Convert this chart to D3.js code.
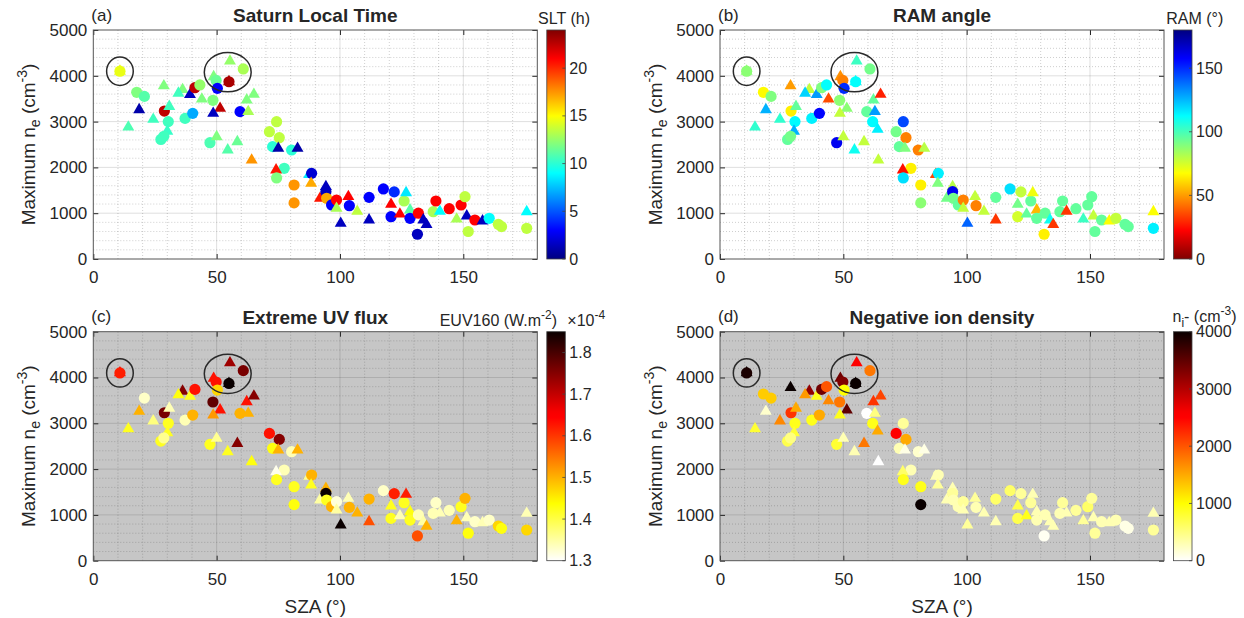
<!DOCTYPE html>
<html>
<head>
<meta charset="utf-8">
<script src="https://cdn.jsdelivr.net/npm/d3@7"></script>
<style>
  body { margin: 0; background: #fff; }
  text { font-family: "Liberation Sans", Arial, sans-serif; fill: #262626; }
</style>
</head>
<body>
<svg id="fig" width="1244" height="618"></svg>
<script>
// ---- data (same events in every panel, coloured by a different quantity)
const sza = [10.8, 10.8, 14.2, 17.6, 20.7, 18.6, 24.3, 28.6, 28.8, 30.8, 30.4, 30.0, 27.4, 28.6, 37.2, 36.2, 34.5, 39.2, 41.2, 43.2,
  40.3, 44.0, 48.5, 48.8, 49.8, 50.3, 55.0, 55.0, 55.4, 60.8, 51.4, 48.6, 59.5, 47.3, 50.0, 54.5, 58.4, 62.8, 62.2, 65.1,
  64.2, 61.9, 63.9, 71.4, 74.3, 75.4, 72.7, 75.0, 80.4, 82.8, 77.4, 74.1, 74.3, 81.4, 81.4, 87.5, 88.5, 88.3, 91.9, 94.3,
  94.3, 94.6, 96.6, 98.6, 98.6, 100.3, 103.4, 103.8, 107.0, 111.8, 111.8, 117.6, 122.0, 120.7, 120.7, 124.3, 126.0, 126.8, 128.4, 128.4,
  131.8, 131.4, 133.8, 135.1, 137.8, 138.9, 140.5, 144.3, 147.3, 149.1, 150.7, 152.0, 151.4, 154.7, 157.8, 160.5, 164.2, 165.5, 175.7, 175.7];
const neMax = [4100, 4100, 2880, 3640, 3550, 3260, 3050, 3780, 3230, 3330, 3000, 2790, 2610, 2680, 3070, 3700, 3620, 3590, 3740, 3800,
  3180, 3490, 3465, 3980, 3900, 3726, 3870, 3870, 4320, 4150, 3290, 3180, 3217, 2540, 2670, 2380, 2560, 3217, 3471, 3595,
  2160, 2998, 2831, 2780, 2998, 2649, 2453, 2416, 2380, 2416, 1980, 1943, 1770, 1616, 1225, 1845, 1870, 1652, 1325, 1580,
  1470, 1325, 1180, 1288, 1106, 779, 1361, 1164, 1040, 1346, 852, 1530, 1465, 1194, 924, 980, 1266, 1448, 1070, 888,
  1000, 540, 852, 750, 1033, 1266, 1040, 1099, 870, 1179, 1361, 600, 939, 852, 830, 888, 757, 706, 670, 1033];
const marker = ['^', 'o', '^', 'o', 'o', '^', '^', '^', 'o', '^', 'o', '^', 'o', 'o', 'o', '^', '^', '^', 'o', 'o',
  'o', '^', 'o', '^', 'o', 'o', '^', 'o', '^', 'o', '^', '^', 'o', 'o', '^', '^', '^', '^', '^', '^',
  '^', 'o', '^', 'o', 'o', 'o', 'o', '^', 'o', '^', 'o', '^', 'o', 'o', 'o', '^', 'o', '^', '^', '^',
  'o', 'o', 'o', 'o', '^', '^', '^', 'o', '^', 'o', '^', 'o', 'o', '^', 'o', '^', 'o', '^', '^', 'o',
  'o', 'o', '^', '^', 'o', 'o', '^', 'o', '^', 'o', 'o', 'o', '^', 'o', '^', 'o', 'o', 'o', 'o', '^'];
const slt = [14.5, 14.5, 10.8, 12, 11, 1, 10.5, 12, 22.5, 10.5, 10.5, 10.3, 10.5, 10.5, 10.5, 12, 10.5, 1.5, 22.5, 12.5,
  7, 12, 12, 12, 11.5, 3, 23, 23, 12.5, 13, 22.5, 1.5, 3, 10.8, 12, 11, 11.5, 13, 12, 12,
  17.5, null, null, 13.5, 13.5, 13.5, 10, 1, 10, 1, 10.5, 20.5, 12, 17.5, 17.5, 8.5, 2, 17, 20.5, 1.5,
  1.5, 17, 3, 21, 13, 1.5, 21, 3, 13.5, 3, 1.5, 3, 4, 21, 3, 21, 13, 8.5, 11, 3,
  21, 1.5, 1.5, 1.5, 13, 21, 9, 21, 13, 21, 13.5, 13.5, 1.5, 21, 1.5, 9, 13.5, 13.5, 13.5, 9];
const ram = [88, 88, 104, 67, 90, 126, 104, 50, 65, 95, 113, 126, 95, 92, 115, 78, 120, 130, 90, 112,
  157, 36, 88, 48, 45, 150, 112, 112, 102, 92, 88, 78, 95, 160, 78, 110, 78, 130, 95, 28,
  78, 113, 115, 92, 145, 45, 95, 90, 45, 80, 65, 25, 118, 65, 88, 35, 115, 90, 92, 80,
  160, 92, 95, 45, 78, 140, 78, 45, 78, 95, 32, 118, 78, 92, 75, 95, 95, 70, 55, 95,
  95, 65, 110, 32, 95, 95, 32, 95, 102, 95, 95, 95, 78, 95, 68, 78, 95, 95, 115, 68];
const euv = [1.66, 1.62, 1.42, null, 1.33, 1.5, 1.37, null, 1.76, 1.34, 1.42, 1.42, 1.42, 1.36, 1.34, 1.75, 1.43, 1.42, 1.63, null,
  1.5, null, 1.78, 1.63, 1.63, 1.47, 1.85, 1.85, 1.73, 1.76, 1.63, 1.52, 1.5, 1.42, 1.36, 1.42, 1.75, 1.5, 1.63, 1.75,
  1.43, null, null, 1.63, null, 1.75, 1.43, 1.5, 1.34, 1.5, 1.34, 1.31, 1.42, 1.42, 1.43, 1.36, 1.5, 1.42, 1.35, 1.5,
  1.85, 1.42, 1.5, 1.32, 1.35, 1.85, 1.34, 1.5, 1.5, 1.5, 1.58, 1.33, 1.62, 1.42, 1.42, 1.34, 1.42, 1.62, 1.43, 1.42,
  1.34, 1.58, 1.35, 1.5, 1.34, 1.33, 1.34, 1.34, 1.5, 1.42, 1.5, 1.43, 1.34, 1.33, 1.34, 1.33, 1.47, 1.43, 1.47, 1.34];
const nion = [4000, 3900, 800, 1300, 1300, 200, 1700, 4000, 2200, 1500, 900, 800, 700, 500, 900, 3200, 1600, 900, 3400, 2000,
  1500, 1700, 1800, 3400, 3300, 1000, 4000, 4000, 2500, 1800, 3500, 900, 0, 800, 300, 300, 1800, 500, 2200, 2100,
  0, 900, 1500, 2500, 400, 1500, 300, 100, 200, 100, 300, 600, 900, 900, 4000, 300, 300, 400, 300, 300,
  400, 300, 300, 400, 300, 400, 400, 300, 300, 600, 300, 600, 400, 700, 700, 900, 400, 300, 300, 300,
  300, 50, 300, 300, 300, 400, 300, 400, 400, 600, 400, 400, 300, 300, 300, 300, 100, 100, 400, 300];

// highlighted groups (black ellipses): centre SZA, centre ne, half-width (deg), half-height (cm-3)
const ellSza = [10.8, 54.5];
const ellNe = [4100, 4080];
const ellRx = [5.4, 9.5];
const ellRy = [310, 430];

const xTicks = [0, 50, 100, 150];
const yTicks = [0, 1000, 2000, 3000, 4000, 5000];
const sltTicks = [0, 5, 10, 15, 20];
const ramTicks = [0, 50, 100, 150];
const euvTicks = [1.3, 1.4, 1.5, 1.6, 1.7, 1.8];
const nionTicks = [0, 1000, 2000, 3000, 4000];

// ---- colormaps (MATLAB jet and flipped hot)
const clamp = v => Math.max(0, Math.min(1, v));
const jet = t => d3.rgb(255 * clamp(1.5 - Math.abs(4 * t - 3)), 255 * clamp(1.5 - Math.abs(4 * t - 2)),
  255 * clamp(1.5 - Math.abs(4 * t - 1))).toString();
const jetR = t => jet(1 - t);
const hotR = t => {
  const s = 1 - t;
  return d3.rgb(255 * clamp(0.04 + s / 0.375), 255 * clamp((s - 0.375) / 0.375), 255 * clamp((s - 0.75) / 0.25)).toString();
};

const W = 444, H = 229;
const panels = [
  { tag: '(a)', title: 'Saturn Local Time', left: 93.3, top: 30, values: slt, domain: [0, 24], cmap: jet,
    ticks: sltTicks, fmt: d3.format('d'), bg: '#ffffff', xlabel: false, cbt: 'slt' },
  { tag: '(b)', title: 'RAM angle', left: 720, top: 30, values: ram, domain: [0, 180], cmap: jetR,
    ticks: ramTicks, fmt: d3.format('d'), bg: '#ffffff', xlabel: false, cbt: 'ram' },
  { tag: '(c)', title: 'Extreme UV flux', left: 93.3, top: 331.7, values: euv, domain: [1.3, 1.85], cmap: hotR,
    ticks: euvTicks, fmt: d3.format('.1f'), bg: '#c6c6c6', xlabel: true, cbt: 'euv' },
  { tag: '(d)', title: 'Negative ion density', left: 720, top: 331.7, values: nion, domain: [0, 4000], cmap: hotR,
    ticks: nionTicks, fmt: d3.format('d'), bg: '#c6c6c6', xlabel: true, cbt: 'nion' }
];

const svg = d3.select('#fig');
const defs = svg.append('defs');
const x = d3.scaleLinear().domain([0, 180]).range([0, W]);
const y = d3.scaleLinear().domain([0, 5000]).range([H, 0]);
const circ = d3.symbol(d3.symbolCircle, Math.PI * 5.6 * 5.6)();
const tri = d3.symbol(d3.symbolTriangle, 62)();

panels.forEach((p, k) => {
  const g = svg.append('g').attr('transform', `translate(${p.left},${p.top})`);
  const color = d3.scaleSequential(p.cmap).domain(p.domain).clamp(true);

  g.append('rect').attr('width', W).attr('height', H).attr('fill', p.bg);

  // minor grid (dotted), then major grid
  const minX = d3.range(10, 180, 10).filter(v => v % 50 !== 0);
  const minY = d3.range(200, 5000, 200).filter(v => v % 1000 !== 0);
  g.append('g').selectAll('line').data(minX).join('line')
    .attr('x1', d => x(d)).attr('x2', d => x(d)).attr('y1', 0).attr('y2', H)
    .attr('stroke', '#262626').attr('stroke-opacity', 0.22).attr('stroke-dasharray', '1,2');
  g.append('g').selectAll('line').data(minY).join('line')
    .attr('x1', 0).attr('x2', W).attr('y1', d => y(d)).attr('y2', d => y(d))
    .attr('stroke', '#262626').attr('stroke-opacity', 0.22).attr('stroke-dasharray', '1,2');
  g.append('g').selectAll('line').data(xTicks.slice(1)).join('line')
    .attr('x1', d => x(d)).attr('x2', d => x(d)).attr('y1', 0).attr('y2', H)
    .attr('stroke', '#262626').attr('stroke-opacity', 0.15);
  g.append('g').selectAll('line').data(yTicks.slice(1, -1)).join('line')
    .attr('x1', 0).attr('x2', W).attr('y1', d => y(d)).attr('y2', d => y(d))
    .attr('stroke', '#262626').attr('stroke-opacity', 0.15);

  // markers
  const idx = d3.range(sza.length).filter(i => p.values[i] != null);
  g.append('g').selectAll('path').data(idx).join('path')
    .attr('transform', i => `translate(${x(sza[i])},${y(neMax[i])})`)
    .attr('d', i => marker[i] === 'o' ? circ : tri)
    .attr('fill', i => color(p.values[i]));

  // highlight ellipses
  g.append('g').selectAll('ellipse').data(ellSza).join('ellipse')
    .attr('cx', (d, i) => x(d)).attr('cy', (d, i) => y(ellNe[i]))
    .attr('rx', (d, i) => x(ellRx[i]) - x(0)).attr('ry', (d, i) => y(0) - y(ellRy[i]))
    .attr('fill', 'none').attr('stroke', '#2a2a2a').attr('stroke-width', 1.5);

  // axes (ticks pointing inwards, box on)
  const ax = (sel) => { sel.select('.domain').remove(); sel.selectAll('.tick line').attr('stroke', '#262626'); };
  g.append('g').attr('transform', `translate(0,${H})`)
    .call(d3.axisBottom(x).tickValues(xTicks).tickFormat(d3.format('d')).tickSizeInner(-5).tickSizeOuter(0).tickPadding(12))
    .call(ax).selectAll('text').attr('font-size', 17).attr('fill', '#262626');
  g.append('g')
    .call(d3.axisLeft(y).tickValues(yTicks).tickFormat(d3.format('d')).tickSizeInner(-5).tickSizeOuter(0).tickPadding(6))
    .call(ax).selectAll('text').attr('font-size', 17).attr('fill', '#262626');
  g.append('g').call(d3.axisTop(x).tickValues(xTicks).tickSizeInner(-5).tickSizeOuter(0).tickFormat(''))
    .call(ax);
  g.append('g').attr('transform', `translate(${W},0)`)
    .call(d3.axisRight(y).tickValues(yTicks).tickSizeInner(-5).tickSizeOuter(0).tickFormat(''))
    .call(ax);
  g.selectAll('.tick text').attr('font-family', '"Liberation Sans", Arial, sans-serif');
  g.append('rect').attr('width', W).attr('height', H).attr('fill', 'none')
    .attr('stroke', '#555').attr('stroke-width', 1);

  // titles and labels
  g.append('text').attr('x', -2).attr('y', -9.5).attr('font-size', 17).text(p.tag);
  g.append('text').attr('x', W / 2).attr('y', -8).attr('text-anchor', 'middle')
    .attr('font-size', 19).attr('font-weight', 'bold').attr('fill', '#111').text(p.title);

  const yl = g.append('text').attr('transform', `translate(-58,${H / 2}) rotate(-90)`)
    .attr('text-anchor', 'middle').attr('font-size', 19);
  yl.append('tspan').text('Maximum n');
  yl.append('tspan').attr('dy', 5).attr('font-size', 14).text('e');
  yl.append('tspan').attr('dy', -5).text(' (cm');
  yl.append('tspan').attr('dy', -8).attr('font-size', 14).text('-3');
  yl.append('tspan').attr('dy', 8).text(')');

  if (p.xlabel) {
    g.append('text').attr('x', W / 2).attr('y', H + 52).attr('text-anchor', 'middle')
      .attr('font-size', 19).text('SZA (\u00B0)');
  }

  // colorbar
  const cbX = W + 9.5, cbW = 18.5;
  const grad = defs.append('linearGradient').attr('id', 'cb' + k)
    .attr('x1', 0).attr('y1', 1).attr('x2', 0).attr('y2', 0);
  grad.selectAll('stop').data(d3.range(0, 1.0001, 1 / 40)).join('stop')
    .attr('offset', d => d).attr('stop-color', d => p.cmap(d));
  g.append('rect').attr('x', cbX).attr('width', cbW).attr('height', H)
    .attr('fill', `url(#cb${k})`).attr('stroke', '#444').attr('stroke-width', 0.8);
  const cy = d3.scaleLinear().domain(p.domain).range([H, 0]);
  const cb = g.append('g').attr('transform', `translate(${cbX + cbW},0)`);
  cb.selectAll('line').data(p.ticks).join('line')
    .attr('x1', -3).attr('x2', 0).attr('y1', d => cy(d)).attr('y2', d => cy(d))
    .attr('stroke', '#444').attr('stroke-width', 0.8);
  cb.selectAll('text').data(p.ticks).join('text')
    .attr('x', 4).attr('y', d => cy(d)).attr('dy', '0.35em').attr('font-size', 16).text(p.fmt);

  const ct = g.append('text').attr('font-size', 16);
  if (p.cbt === 'slt') {
    ct.attr('x', cbX + cbW / 2 + 8).attr('y', -6).attr('text-anchor', 'middle').text('SLT (h)');
  } else if (p.cbt === 'ram') {
    ct.attr('x', cbX + cbW / 2 + 12).attr('y', -6).attr('text-anchor', 'middle').text('RAM (\u00B0)');
  } else if (p.cbt === 'euv') {
    ct.attr('x', cbX + cbW / 2 + 1).attr('y', -6).attr('text-anchor', 'end');
    ct.append('tspan').text('EUV160 (W.m');
    ct.append('tspan').attr('dy', -7).attr('font-size', 12).text('-2');
    ct.append('tspan').attr('dy', 7).text(')');
    const sc = g.append('text').attr('x', cbX + cbW + 2).attr('y', -6).attr('font-size', 16);
    sc.append('tspan').text('\u00D710');
    sc.append('tspan').attr('dy', -7).attr('font-size', 12).text('-4');
  } else {
    ct.attr('x', cbX - 1).attr('y', -10).attr('text-anchor', 'start');
    ct.append('tspan').text('n');
    ct.append('tspan').attr('dy', 5).attr('font-size', 12).text('i');
    ct.append('tspan').attr('dy', -5).text('- (cm');
    ct.append('tspan').attr('dy', -7).attr('font-size', 12).text('-3');
    ct.append('tspan').attr('dy', 7).text(')');
  }
});
</script>
</body>
</html>
